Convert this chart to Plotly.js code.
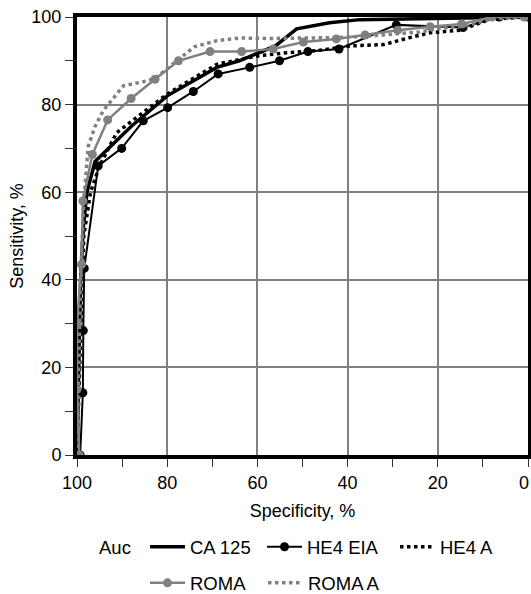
<!DOCTYPE html>
<html>
<head>
<meta charset="utf-8">
<script src="https://cdn.plot.ly/plotly-3.0.1.min.js"></script>
<style>html,body{margin:0;padding:0;background:#fff;}#chart{width:531px;height:594px;}</style>
</head>
<body>
<div id="chart"></div>
<script>
// Specificity (x, %) and Sensitivity (y, %)
const ca125X = [100, 99.6, 99.2, 98.6, 97.8, 96, 88, 80, 69, 64, 56, 51.3, 44, 37.3, 20, 0];
const ca125Y = [0, 20, 40, 52, 60, 67, 75, 82, 88.5, 90, 93.4, 97.3, 98.7, 99.4, 99.7, 100];

const he4eiaX = [99.3, 98.7, 98.6, 98.4, 95.3, 90.1, 85.3, 79.9, 74.2, 68.7, 61.7, 55.1, 48.8, 41.9, 29.2, 14.4, 6.4, 0];
const he4eiaY = [0, 14.2, 28.4, 42.6, 66, 70, 76.3, 79.3, 83, 87, 88.5, 90, 92.1, 92.7, 98.2, 97.6, 100, 100];

const he4aX = [100, 99.5, 99, 98.5, 97, 95, 91.2, 85, 80, 75, 69, 63, 59.4, 52.8, 47, 39.5, 32, 26.2, 21.7, 15, 8.4, 0];
const he4aY = [0, 15, 35, 50, 60, 66, 73.6, 78.5, 82.4, 85.5, 89.2, 90.5, 91.2, 91.9, 92.3, 93.4, 93.7, 95.3, 96.4, 97, 99.5, 100];

const romaX = [99.5, 100, 100, 99, 98.7, 96.6, 93.2, 88, 82.7, 77.5, 70.5, 63.5, 56.5, 49.8, 42.5, 36.1, 28.9, 21.7, 14.7, 8, 0.8];
const romaY = [0, 15, 30, 43.5, 58, 68.6, 76.5, 81.4, 85.8, 90, 92.1, 92.1, 92.7, 94.3, 95, 95.9, 97, 97.8, 98.4, 100, 100];

const romaAX = [100, 99.6, 99.2, 98.5, 97.5, 96, 94.2, 89.7, 84.5, 82.7, 78, 74, 69, 64, 57, 50, 42, 36, 29, 24, 19.5, 14, 8, 0];
const romaAY = [0, 20, 40, 58, 70.5, 75, 78.6, 84.3, 85.4, 86, 90, 93.2, 94.6, 95.2, 95.1, 95.1, 95.3, 95.6, 96.3, 96.6, 97.4, 98, 99.6, 100];

const names = ['CA 125', 'HE4 EIA', 'HE4 A', 'ROMA', 'ROMA A'];
const legendTitle = 'Auc';
const xTicks = [100, 80, 60, 40, 20, 0];
const yTicks = [0, 20, 40, 60, 80, 100];

const black = '#000000';
const gray = '#808080';

const traces = [
  {x: ca125X, y: ca125Y, name: names[0], mode: 'lines', line: {color: black, width: 3.5}, legend: 'legend'},
  {x: he4eiaX, y: he4eiaY, name: names[1], mode: 'lines+markers', line: {color: black, width: 2}, marker: {color: black, size: 9}, legend: 'legend2'},
  {x: he4aX, y: he4aY, name: names[2], mode: 'lines', line: {color: black, width: 3.5, dash: 'dot'}, legend: 'legend3'},
  {x: romaX, y: romaY, name: names[3], mode: 'lines+markers', line: {color: gray, width: 2.5}, marker: {color: gray, size: 9}, legend: 'legend4'},
  {x: romaAX, y: romaAY, name: names[4], mode: 'lines', line: {color: gray, width: 3.5, dash: 'dot'}, legend: 'legend5'}
];

const font = {family: '"Liberation Sans", Arial, sans-serif', size: 18, color: '#000'};
const legFont = {family: font.family, size: 18.5, color: '#000'};

function leg(x, y) {
  return {orientation: 'h', x: x, xanchor: 'left', y: y, yanchor: 'middle',
          font: legFont, bgcolor: 'rgba(0,0,0,0)', itemwidth: 35};
}
const row1 = -0.2105, row2 = -0.293;

const layout = {
  width: 531, height: 594,
  margin: {l: 77, r: 3, t: 17, b: 139, autoexpand: false},
  paper_bgcolor: '#fff', plot_bgcolor: '#fff',
  font: font,
  showlegend: true,
  xaxis: {
    range: [100, 0], tickvals: xTicks, ticktext: xTicks.map(v => v === 0 ? '' : String(v)),
    showgrid: true, gridcolor: gray, gridwidth: 2,
    showline: true, linecolor: black, linewidth: 4, mirror: true,
    ticks: 'outside', ticklen: 8, tickwidth: 1, tickcolor: '#333',
    minor: {dtick: 10, tick0: 0, ticks: 'outside', ticklen: 8, tickwidth: 1, tickcolor: '#333', showgrid: false},
    zeroline: false, automargin: false,
    title: {text: 'Specificity, %', standoff: 14, font: font}
  },
  yaxis: {
    range: [0, 100], tickvals: yTicks, ticktext: yTicks.map(String),
    showgrid: true, gridcolor: gray, gridwidth: 2,
    showline: true, linecolor: black, linewidth: 4, mirror: true,
    ticks: 'outside', ticklen: 8, tickwidth: 1, tickcolor: '#333',
    minor: {dtick: 10, tick0: 0, ticks: 'outside', ticklen: 8, tickwidth: 1, tickcolor: '#333', showgrid: false},
    zeroline: false, automargin: false,
    title: {text: 'Sensitivity, %', standoff: 4, font: font}
  },
  legend: leg(0.1508, row1),
  legend2: leg(0.4102, row1),
  legend3: leg(0.7051, row1),
  legend4: leg(0.1508, row2),
  legend5: leg(0.4124, row2),
  annotations: [
    {text: String(xTicks[5]), xref: 'paper', yref: 'paper', x: 1.0067, xanchor: 'right', y: -0.064, yanchor: 'middle', showarrow: false, font: font},
    {text: legendTitle, xref: 'paper', yref: 'paper', x: 0.0443, xanchor: 'left', y: row1, yanchor: 'middle', showarrow: false, font: legFont}
  ]
};

Plotly.newPlot('chart', traces, layout, {staticPlot: true, displayModeBar: false});
</script>
</body>
</html>
